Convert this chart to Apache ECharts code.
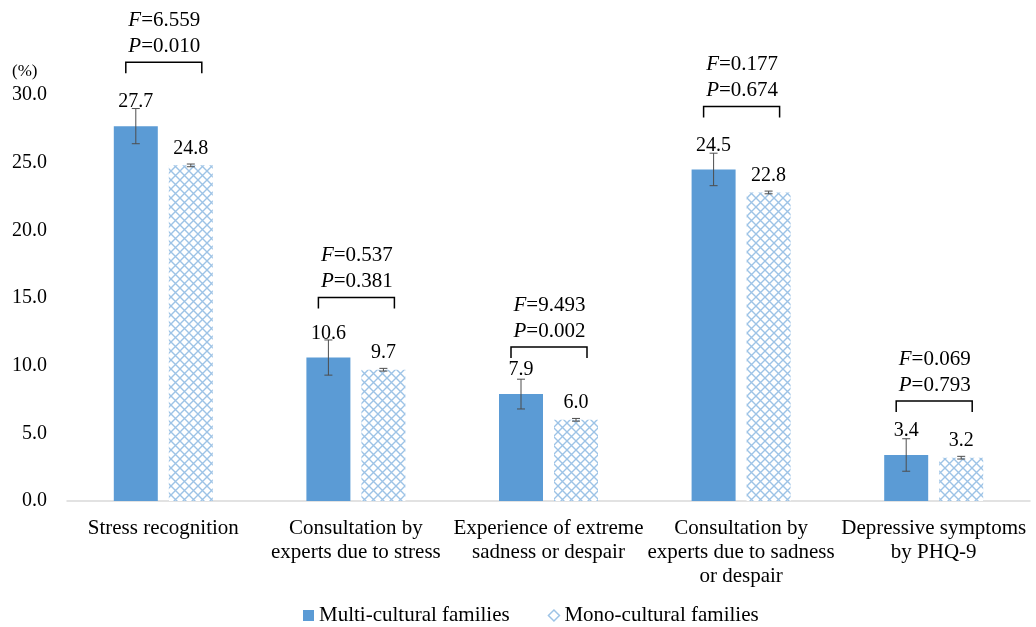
<!DOCTYPE html>
<html>
<head>
<meta charset="utf-8">
<script src="https://cdn.jsdelivr.net/npm/echarts@6/dist/echarts.min.js"></script>
<style>
  html, body { margin: 0; padding: 0; background: #fff; }
  #chart { width: 1036px; height: 627px; }
</style>
</head>
<body>
<div id="chart"></div>
<script>
// data
const categories = [
  'Stress recognition',
  'Consultation by\nexperts due to stress',
  'Experience of extreme\nsadness or despair',
  'Consultation by\nexperts due to sadness\nor despair',
  'Depressive symptoms\nby PHQ-9'
];
const multiValues = [27.7, 10.6, 7.9, 24.5, 3.4];
const monoValues = [24.8, 9.7, 6.0, 22.8, 3.2];
const multiErr = [1.3, 1.3, 1.1, 1.2, 1.2];
const monoErr = [0.1, 0.1, 0.1, 0.1, 0.1];
const fValues = ['6.559', '0.537', '9.493', '0.177', '0.069'];
const pValues = ['0.010', '0.381', '0.002', '0.674', '0.793'];
const yTicks = [0, 5, 10, 15, 20, 25, 30];

// layout: pixels from the multi bar top to the bracket line
const bracketLift = [64, 60, 47, 63, 54];

const FONT = '"Liberation Serif", "Times New Roman", serif';
const BLUE = '#5b9bd5';
const HATCH = '#9dc3e6';
const BAR_W = 44;
const GAP = 11;
const OFF = (BAR_W + GAP) / 2;

// crosshatch pattern for mono bars
function makeHatch() {
  const c = document.createElement('canvas');
  c.width = 9; c.height = 9;
  const g = c.getContext('2d');
  g.fillStyle = '#fff';
  g.fillRect(0, 0, 9, 9);
  g.strokeStyle = HATCH;
  g.lineWidth = 1.4;
  g.beginPath();
  g.moveTo(0, 0); g.lineTo(9, 9);
  g.moveTo(9, 0); g.lineTo(0, 9);
  g.stroke();
  return { image: c, repeat: 'repeat' };
}

const chart = echarts.init(document.getElementById('chart'));

function errorItem(values, errs, dx) {
  return function (params, api) {
    const i = api.value(0);
    const top = api.coord([i, values[i] + errs[i]]);
    const bot = api.coord([i, values[i] - errs[i]]);
    const x = top[0] + dx;
    const st = { stroke: '#4d4d4d', lineWidth: 1 };
    return {
      type: 'group',
      children: [
        { type: 'line', shape: { x1: x, y1: top[1], x2: x, y2: bot[1] }, style: st },
        { type: 'line', shape: { x1: x - 4, y1: top[1], x2: x + 4, y2: top[1] }, style: st },
        { type: 'line', shape: { x1: x - 4, y1: bot[1], x2: x + 4, y2: bot[1] }, style: st }
      ]
    };
  };
}

function bracketItem(params, api) {
  const i = api.value(0);
  const p = api.coord([i, multiValues[i]]);
  const cx = p[0];
  const y = p[1] - bracketLift[i];
  const x1 = cx - OFF - 10, x2 = cx + OFF + 11;
  const textStyle = {
    fontFamily: FONT, fontSize: 21, fill: '#000',
    align: 'center', verticalAlign: 'middle'
  };
  const rich = { i: { fontStyle: 'italic', fontFamily: FONT, fontSize: 21 } };
  return {
    type: 'group',
    children: [
      {
        type: 'polyline',
        shape: { points: [[x1, y + 11], [x1, y], [x2, y], [x2, y + 11]] },
        style: { stroke: '#000', lineWidth: 1.5, fill: null }
      },
      {
        type: 'text',
        style: Object.assign({}, textStyle, {
          x: cx + 1, y: y - 42, text: '{i|F}=' + fValues[i], rich: rich
        })
      },
      {
        type: 'text',
        style: Object.assign({}, textStyle, {
          x: cx + 1, y: y - 16, text: '{i|P}=' + pValues[i], rich: rich
        })
      }
    ]
  };
}

const idx = categories.map((c, i) => [i]);

chart.setOption({
  animation: false,
  textStyle: { fontFamily: FONT },
  grid: { left: 67, right: 6, top: 95, bottom: 126 },
  graphic: [{
    type: 'text', left: 12, top: 63,
    style: { text: '(%)', fontFamily: FONT, fontSize: 17, fill: '#000' }
  }],
  legend: {
    left: 298, top: 600,
    itemGap: 38, itemWidth: 11, itemHeight: 11, itemTextGap: 5,
    textStyle: { fontFamily: FONT, fontSize: 21, color: '#000' },
    data: [
      { name: 'Multi-cultural families', icon: 'rect', itemStyle: { color: BLUE } },
      { name: 'Mono-cultural families', icon: 'diamond',
        itemStyle: { color: '#fff', borderColor: HATCH, borderWidth: 1.5 } }
    ]
  },
  xAxis: {
    type: 'category',
    data: categories,
    axisLine: { lineStyle: { color: '#d9d9d9', width: 1.5 } },
    axisTick: { show: false },
    axisLabel: {
      interval: 0, margin: 15, color: '#000',
      fontFamily: FONT, fontSize: 21, lineHeight: 24, align: 'center'
    }
  },
  yAxis: {
    type: 'value',
    min: yTicks[0], max: yTicks[yTicks.length - 1], interval: 5,
    axisLine: { show: false },
    axisTick: { show: false },
    splitLine: { show: false },
    axisLabel: {
      margin: 20, color: '#000', fontFamily: FONT, fontSize: 20,
      formatter: v => v.toFixed(1)
    }
  },
  series: [
    {
      name: 'Multi-cultural families',
      type: 'bar',
      data: multiValues,
      barWidth: BAR_W,
      barGap: (GAP / BAR_W * 100) + '%',
      itemStyle: { color: BLUE },
      label: {
        show: true, position: 'top', distance: 14, color: '#000',
        fontFamily: FONT, fontSize: 20, formatter: p => p.value.toFixed(1)
      }
    },
    {
      name: 'Mono-cultural families',
      type: 'bar',
      data: monoValues,
      barWidth: BAR_W,
      itemStyle: { color: makeHatch() },
      label: {
        show: true, position: 'top', distance: 7, color: '#000',
        fontFamily: FONT, fontSize: 20, formatter: p => p.value.toFixed(1)
      }
    },
    {
      type: 'custom', data: idx, z: 5, silent: true,
      renderItem: errorItem(multiValues, multiErr, -OFF)
    },
    {
      type: 'custom', data: idx, z: 5, silent: true,
      renderItem: errorItem(monoValues, monoErr, OFF)
    },
    {
      type: 'custom', data: idx, z: 5, silent: true,
      renderItem: bracketItem
    }
  ]
});
</script>
</body>
</html>
